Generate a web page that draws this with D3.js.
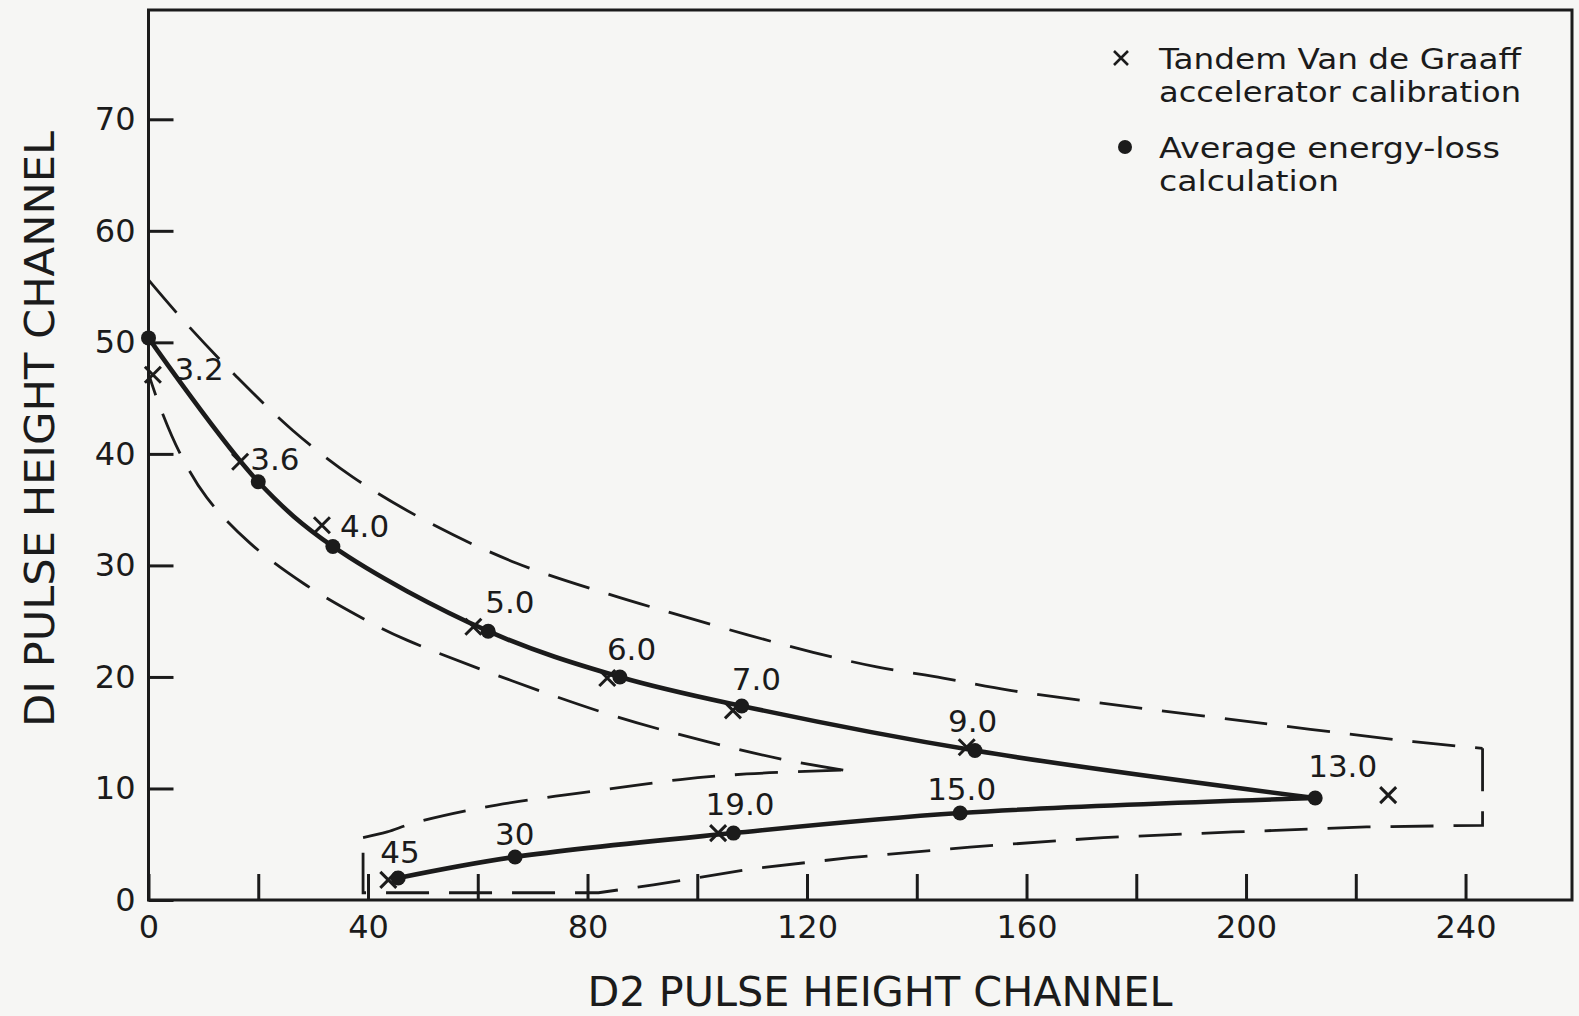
<!DOCTYPE html>
<html>
<head>
<meta charset="utf-8">
<script src="https://cdn.jsdelivr.net/npm/d3@7/dist/d3.min.js"></script>
<style>
  html, body { margin: 0; padding: 0; background: #f6f6f4; }
  svg { display: block; }
  text { font-family: "DejaVu Sans", sans-serif; fill: #1b1b1b; }
</style>
</head>
<body>
<svg id="chart" width="1579" height="1016"></svg>
<script>
// Energy of each point (MeV), in order along the calculated curve
const energies = ["3.2", "3.6", "4.0", "5.0", "6.0", "7.0", "9.0", "13.0", "15.0", "19.0", "30", "45"];

// Average energy-loss calculation (D2 channel, D1 channel)
const calcD2 = [0, 20.0, 33.6, 61.9, 85.9, 108.1, 150.6, 212.6, 147.9, 106.6, 66.8, 45.5];
const calcD1 = [50.4, 37.5, 31.7, 24.1, 20.0, 17.4, 13.4, 9.14, 7.8, 6.0, 3.86, 1.97];

// Tandem Van de Graaff accelerator calibration (null = not measured)
const calibD2 = [0.8, 16.7, 31.6, 59.2, 83.6, 106.5, 149.1, 225.9, null, 103.8, null, 43.7];
const calibD1 = [47.1, 39.3, 33.6, 24.5, 19.9, 17.0, 13.7, 9.4, null, 6.0, null, 1.8];

// Dashed acceptance envelope
const outerUpperD2 = [0, 6.3, 16.1, 26.3, 37.3, 51.3, 67.1, 84.0, 95.6, 109, 121.1, 132.7, 144.8, 157, 173, 202, 230.5, 243.1];
const outerUpperD1 = [55.6, 52.0, 46.9, 42.1, 37.9, 33.8, 30.2, 27.4, 25.7, 23.8, 22.2, 20.9, 19.9, 18.8, 17.7, 15.9, 14.2, 13.6];
const outerLowerD2 = [243.1, 243.1, 222, 197.7, 174, 149.7, 127.8, 110, 92, 82, 39.1, 39.1];
const outerLowerD1 = [13.6, 6.7, 6.55, 6.1, 5.6, 4.75, 3.8, 2.8, 1.35, 0.65, 0.65, 5.6];
const innerLowerD2 = [39.1, 43.5, 48.3, 60.4, 72.6, 84.7, 96.9, 109, 126.6];
const innerLowerD1 = [5.6, 6.1, 6.9, 8.25, 9.2, 10.0, 10.8, 11.3, 11.65];
const innerUpperD2 = [126.6, 115.7, 101.8, 82.3, 47.1, 38.5, 28.2, 18.5, 10.6, 5.7, 2.1, 0];
const innerUpperD1 = [11.65, 12.6, 14.2, 16.9, 23.3, 25.4, 28.4, 32.0, 36.1, 40.1, 44.2, 47.2];

// Axis ticks
const xTicks = [0, 20, 40, 60, 80, 100, 120, 140, 160, 180, 200, 220, 240];
const xLabelled = [0, 40, 80, 120, 160, 200, 240];
const yTicks = [0, 10, 20, 30, 40, 50, 60, 70];

const xTitle = "D2 PULSE HEIGHT CHANNEL";
const yTitle = "DI PULSE HEIGHT CHANNEL";
const legendCross = ["Tandem Van de Graaff", "accelerator calibration"];
const legendDot = ["Average energy-loss", "calculation"];

// Pixel offsets of each energy label from its point
const labelOffset = [[26, 42], [-8, -12], [7, -9], [-3, -18], [-13, -17], [-10, -16],
                     [-27, -19], [-7, -21], [-33, -13], [-28, -18], [-20, -12], [-18, -15]];

const ink = "#1b1b1b";
const svg = d3.select("#chart");

const x = d3.scaleLinear().domain([0, 259.4]).range([148.5, 1572]);
const y = d3.scaleLinear().domain([0, 79.8]).range([900, 10]);

const zip = (a, b) => a.map((v, i) => [v, b[i]]);

// frame
svg.append("rect")
  .attr("x", x(0)).attr("y", y(79.8))
  .attr("width", x(259.4) - x(0)).attr("height", y(0) - y(79.8))
  .attr("fill", "none").attr("stroke", ink).attr("stroke-width", 3);

// axes (inward ticks)
const gx = svg.append("g").attr("transform", `translate(0,${y(0)})`)
  .call(d3.axisBottom(x).tickValues(xTicks).tickSizeInner(-26).tickSizeOuter(0).tickPadding(15)
    .tickFormat(d => xLabelled.includes(d) ? d : ""));
const gy = svg.append("g").attr("transform", `translate(${x(0)},0)`)
  .call(d3.axisLeft(y).tickValues(yTicks).tickSizeInner(-25).tickSizeOuter(0).tickPadding(13));
[gx, gy].forEach(g => {
  g.select(".domain").remove();
  g.selectAll(".tick line").attr("stroke", ink).attr("stroke-width", 3);
  g.selectAll(".tick text").attr("font-size", 32).attr("fill", ink)
    .style("font-family", "'DejaVu Sans', sans-serif");
});

// axis titles
svg.append("text").attr("x", 880).attr("y", 1006).attr("text-anchor", "middle")
  .attr("font-size", 41).attr("textLength", 585).attr("lengthAdjust", "spacingAndGlyphs")
  .text(xTitle);
svg.append("text").attr("transform", "translate(54,429) rotate(-90)").attr("text-anchor", "middle")
  .attr("font-size", 41).attr("textLength", 596).attr("lengthAdjust", "spacingAndGlyphs")
  .text(yTitle);

// dashed envelope
const smooth = d3.line().x(d => x(d[0])).y(d => y(d[1])).curve(d3.curveCatmullRom.alpha(0.5));
const straight = d3.line().x(d => x(d[0])).y(d => y(d[1]));
const dashed = g => g.attr("fill", "none").attr("stroke", ink).attr("stroke-width", 2.8)
  .attr("stroke-dasharray", "43 20");
svg.append("path").attr("d", smooth(zip(outerUpperD2, outerUpperD1))).call(dashed);
svg.append("path").attr("d", straight(zip(outerLowerD2, outerLowerD1))).call(dashed);
svg.append("path").attr("d", smooth(zip(innerLowerD2, innerLowerD1))).call(dashed);
svg.append("path").attr("d", smooth(zip(innerUpperD2, innerUpperD1))).call(dashed);

// calculated curve: rising-energy branch then falling branch, meeting at 13.0
const calc = zip(calcD2, calcD1);
const turn = energies.indexOf("13.0");
svg.append("path").attr("d", smooth(calc.slice(0, turn + 1)))
  .attr("fill", "none").attr("stroke", ink).attr("stroke-width", 4.6);
svg.append("path").attr("d", smooth(calc.slice(turn)))
  .attr("fill", "none").attr("stroke", ink).attr("stroke-width", 4.6);

// calibration crosses
const cross = (s) => `M${-s},${-s}L${s},${s}M${-s},${s}L${s},${-s}`;
svg.append("g").selectAll("path")
  .data(zip(calibD2, calibD1).filter(d => d[0] !== null))
  .join("path")
  .attr("transform", d => `translate(${x(d[0])},${y(d[1])})`)
  .attr("d", cross(8)).attr("stroke", ink).attr("stroke-width", 3).attr("fill", "none");

// calculation dots
svg.append("g").selectAll("circle").data(calc).join("circle")
  .attr("cx", d => x(d[0])).attr("cy", d => y(d[1])).attr("r", 7.5).attr("fill", ink);

// energy labels
svg.append("g").selectAll("text").data(energies).join("text")
  .attr("x", (d, i) => x(calcD2[i]) + labelOffset[i][0])
  .attr("y", (d, i) => y(calcD1[i]) + labelOffset[i][1])
  .attr("font-size", 31).text(d => d);

// legend
const lg = svg.append("g");
lg.append("path").attr("transform", "translate(1121,58)").attr("d", cross(7))
  .attr("stroke", ink).attr("stroke-width", 2.6).attr("fill", "none");
lg.append("circle").attr("cx", 1125).attr("cy", 147).attr("r", 7).attr("fill", ink);
const legendLines = [
  [legendCross[0], 69, 362], [legendCross[1], 102, 362],
  [legendDot[0], 158, 341], [legendDot[1], 191, 180]
];
lg.selectAll("text").data(legendLines).join("text")
  .attr("x", 1159).attr("y", d => d[1]).attr("font-size", 28)
  .attr("textLength", d => d[2]).attr("lengthAdjust", "spacingAndGlyphs")
  .text(d => d[0]);
</script>
</body>
</html>
